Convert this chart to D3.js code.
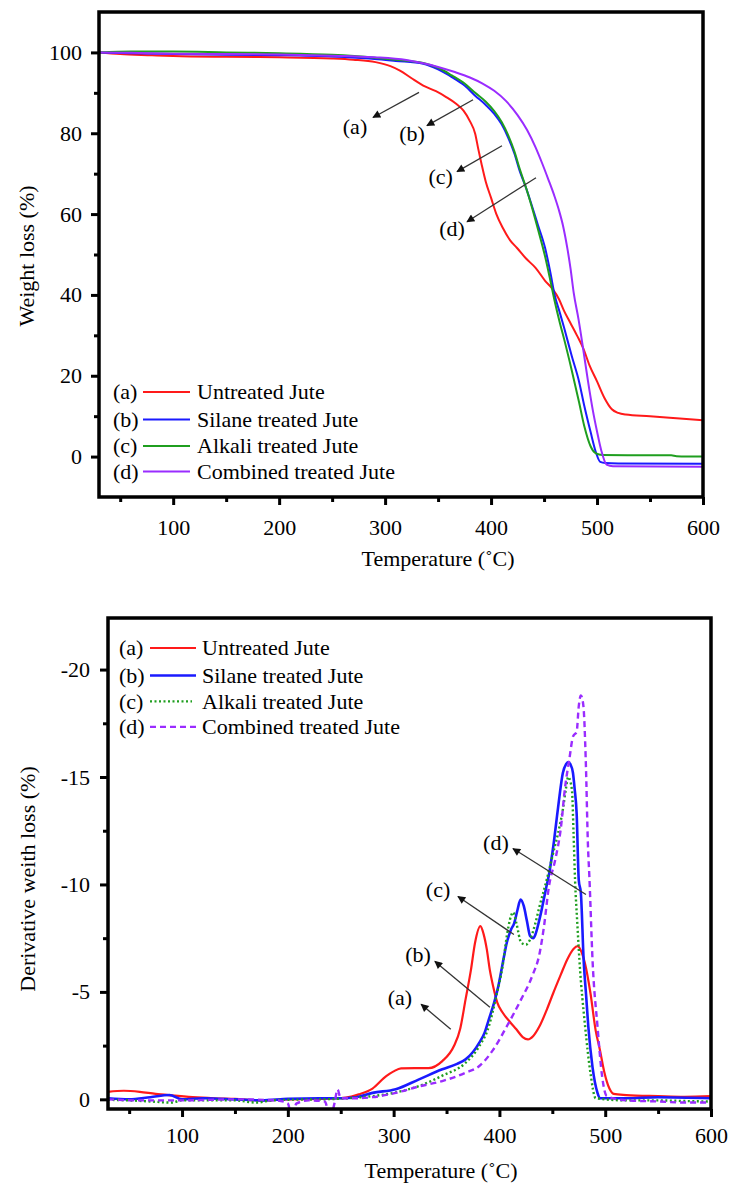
<!DOCTYPE html>
<html>
<head>
<meta charset="utf-8">
<script src="https://cdn.jsdelivr.net/npm/d3@7"></script>
<style>
  html, body { margin: 0; padding: 0; background: #fff; }
  svg { display: block; }
  text { font-family: "Liberation Serif", "Times New Roman", serif; fill: #000; }
</style>
</head>
<body>
<svg id="chart" width="729" height="1185"></svg>
<script>
// ---------- TGA (weight loss, %) ----------
const tgaUntreated = [[30,100],[50,99.6],[80,99.3],[100,99.1],[150,98.9],[200,98.8],[250,98.5],[270,98.2],[291,97.6],[305,96.6],[314,95.5],[325,93.6],[336,91.8],[348,90.4],[358,88.9],[367,87.3],[374,85.6],[380,83],[385,79.9],[388,76],[391,72.4],[395,68],[400,64],[405,60],[411,56.6],[418,53.5],[424.5,51.6],[433,49],[442,46.7],[451,43.5],[458,41.5],[464,39],[469,36],[475,33],[481,30],[487,26.8],[493,22.5],[500,18.6],[507,14.5],[514,11.7],[520,10.8],[527,10.4],[550,10],[575,9.5],[600,9]];
const tgaSilane = [[30,100],[60,99.8],[100,99.6],[150,99.4],[200,99.3],[250,99],[290,98.4],[310,97.9],[336,97.2],[350,95.8],[363,93.9],[375,91.8],[385,89.3],[395,87],[403,84.8],[410,82.2],[416,79],[422,75],[427,70.7],[433,66.5],[438,62.5],[444,57.5],[451,51.6],[456,45.5],[460,40],[465,35.5],[469,31.8],[476,25],[483,18.6],[488,12.5],[494,6],[499,1],[503,-1.3],[508,-1.6],[520,-1.7],[600,-1.8]];
const tgaAlkali = [[30,100],[60,100.2],[100,100.2],[150,100],[200,99.8],[250,99.4],[290,98.7],[310,98.2],[336,97.4],[350,96.2],[363,94.3],[375,92.3],[385,90],[395,87.8],[403,85.5],[410,82.8],[416,79.6],[422,75.5],[427,71.2],[433,66.5],[438,62.2],[444,56.5],[451,49.5],[456,43.5],[460,38.5],[465,33],[469,29],[476,21.5],[483,13.5],[488,7.5],[494,2.5],[499,0.8],[505,0.4],[570,0.3],[575,0.1],[600,0]];
const tgaCombined = [[30,100],[60,99.9],[100,99.7],[150,99.6],[200,99.5],[250,99.2],[290,98.8],[320,98.1],[336,97.3],[350,96.4],[365,95.2],[380,93.8],[392,92.3],[403,90.5],[414,88],[425,84.5],[434,80.8],[442,76.5],[448,72.7],[454,68.6],[460,64.3],[464,61],[468,57],[472,51.5],[475,46.5],[478,40.5],[482.5,34],[487,26.5],[491.5,18.6],[496,11.5],[500,6.2],[504,1.5],[509,-2],[515,-2.4],[600,-2.5]];

// ---------- DTG (derivative weight loss, %) ----------
const dtgUntreated = [[30,-0.35],[45,-0.4],[60,-0.35],[75,-0.25],[90,-0.18],[110,-0.1],[130,-0.05],[150,-0.02],[175,0.05],[200,0],[230,-0.02],[255,-0.08],[267,-0.23],[280,-0.5],[293,-1.08],[300,-1.3],[307,-1.44],[320,-1.45],[333,-1.45],[346,-1.78],[357,-2.48],[363,-3.3],[368,-4.65],[373,-6.0],[377,-7.3],[382,-8.06],[385,-7.7],[388,-7.0],[391,-6.0],[394,-5.27],[398,-4.5],[403,-4.04],[410,-3.6],[416,-3.26],[422,-2.9],[427,-2.79],[432,-2.95],[438,-3.41],[445,-4.2],[451,-4.96],[458,-5.8],[464,-6.5],[470,-7.0],[474,-7.13],[478,-6.8],[481,-6.3],[486,-4.96],[491,-3.2],[495,-2.3],[499,-1.3],[504,-0.5],[508,-0.25],[520,-0.2],[550,-0.15],[575,-0.12],[600,-0.15]];
const dtgSilane = [[30,-0.05],[50,0.0],[70,-0.1],[88,-0.2],[100,0.0],[120,-0.05],[150,0.0],[175,0.05],[200,-0.02],[230,-0.05],[250,-0.05],[265,-0.1],[280,-0.3],[302,-0.47],[324,-0.93],[346,-1.4],[360,-1.65],[368,-1.86],[375,-2.2],[381,-2.64],[386,-3.1],[390,-3.72],[395,-4.5],[399,-5.27],[403,-6.3],[407,-7.3],[411,-7.9],[414,-8.2],[417,-8.8],[420,-9.3],[423,-9.0],[426,-8.3],[429,-7.6],[432,-7.5],[434,-7.67],[437,-8.2],[440,-8.84],[444,-9.8],[447,-10.5],[451,-11.8],[455.5,-13.6],[460,-15.2],[463,-15.6],[465,-15.7],[467,-15.6],[469.5,-15.2],[471,-14.5],[473,-13.3],[475,-10.2],[477,-9.6],[479.6,-6.5],[482,-4.8],[484,-3.4],[488,-1.5],[492.7,-0.3],[495,-0.05],[520,-0.05],[550,-0.1],[600,-0.05]];
const dtgAlkali = [[30,0.02],[50,0.05],[70,0.1],[90,0.15],[100,0.05],[130,0.05],[150,0.05],[170,0.15],[185,0.05],[200,0.02],[230,0.0],[250,-0.03],[270,-0.1],[300,-0.3],[324,-0.62],[346,-1.1],[368,-1.7],[380,-2.4],[390,-3.4],[397,-4.8],[403,-6.2],[407,-7.6],[410,-8.37],[413,-8.7],[416,-8.2],[420.5,-7.3],[425,-7.2],[429,-7.44],[434,-8.2],[438,-9.0],[444.6,-10.2],[451,-11.5],[455.5,-12.4],[460,-13.5],[463,-14.5],[465,-15.0],[467,-14.8],[468.7,-14.3],[470,-12.5],[471.5,-10.2],[473.5,-8.3],[475.6,-6.5],[481,-3.4],[486,-1.24],[491,-0.05],[520,0.05],[550,0.05],[575,0.08],[600,0.1]];
const dtgCombined = [[30,0.0],[60,0.05],[100,0.05],[150,0.0],[190,0.05],[200,0.2],[204,0.9],[208,0.2],[220,0.05],[235,0.1],[240,0.9],[244,0.2],[247,-0.45],[250,-0.05],[265,-0.05],[280,-0.1],[302,-0.3],[324,-0.6],[346,-0.85],[368,-1.24],[381,-1.55],[394,-2.3],[407,-3.4],[420.5,-4.65],[431,-5.74],[438,-6.8],[442,-8.0],[446.8,-9.9],[453,-11.2],[458,-12.6],[462,-14.5],[466,-15.8],[469.7,-16.9],[473,-17.1],[475,-18.3],[477,-18.8],[479.4,-18.3],[481.6,-15.8],[483.7,-11.8],[485,-10.4],[488,-6.5],[492.7,-3.4],[497,-1.1],[501.5,-0.15],[520,0.05],[550,0.1],[575,0.15],[600,0.15]];

// ---------- labels & ticks ----------
const seriesTags = ["(a)", "(b)", "(c)", "(d)"];
const seriesNames = ["Untreated Jute", "Silane treated Jute", "Alkali treated Jute", "Combined treated Jute"];
const tempTicks = [100, 200, 300, 400, 500, 600];
const tempMinorTicks = [50, 150, 250, 350, 450, 550];
const tgaTicks = [0, 20, 40, 60, 80, 100];
const tgaMinorTicks = [10, 30, 50, 70, 90];
const dtgTicks = [0, -5, -10, -15, -20];
const dtgMinorTicks = [-2.5, -7.5, -12.5, -17.5];

// callouts in data units: arrow tail, arrow head, tag position
const tgaCallouts = [
  { tag: "(a)", tail: [332, 90.1], head: [288.6, 83.9], at: [271.6, 81.8] },
  { tag: "(b)", tail: [383, 88.3], head: [339.5, 81.9], at: [325.4, 80.0] },
  { tag: "(c)", tail: [410.3, 76.9], head: [367.9, 70.5], at: [352.5, 69.3] },
  { tag: "(d)", tail: [442.4, 69.0], head: [377.3, 58.1], at: [363.1, 56.5] }
];
const dtgCallouts = [
  { tag: "(a)", tail: [354, -3.26], head: [326, -4.42], at: [306, -4.75] },
  { tag: "(b)", tail: [391, -4.28], head: [339, -6.42], at: [323, -6.75] },
  { tag: "(c)", tail: [413.7, -7.67], head: [360.8, -9.44], at: [342, -9.77] },
  { tag: "(d)", tail: [481.8, -9.53], head: [412.8, -11.67], at: [396.7, -11.95] }
];

const colors = ["#ff1a1a", "#1a1aff", "#1f9e1f", "#9a2cff"];

const svg = d3.select("#chart");
const FONT = 22;

const defs = svg.append("defs");
defs.append("marker")
  .attr("id", "arrowhead")
  .attr("viewBox", "0 0 10 10")
  .attr("refX", 9).attr("refY", 5)
  .attr("markerUnits", "userSpaceOnUse")
  .attr("markerWidth", 11).attr("markerHeight", 8)
  .attr("orient", "auto")
  .append("path").attr("d", "M0,0 L10,5 L0,10 Z").attr("fill", "#111");

function panel(opts) {
  const { id, x, y, xTickPad, yTickPad } = opts;
  const [xl, xr] = x.range();
  const [yb, yt] = y.range();
  const g = svg.append("g");

  defs.append("clipPath").attr("id", id + "-clip")
    .append("rect").attr("x", xl).attr("y", yt).attr("width", xr - xl).attr("height", yb - yt);

  // curves
  const line = d3.line().x(d => x(d[0])).y(d => y(d[1])).curve(d3.curveMonotoneX);
  const plot = g.append("g").attr("clip-path", `url(#${id}-clip)`);
  opts.series.forEach((s, i) => {
    plot.append("path").datum(s.data)
      .attr("fill", "none")
      .attr("stroke", colors[i])
      .attr("stroke-width", s.width)
      .attr("stroke-dasharray", s.dash || null)
      .attr("stroke-linejoin", "round")
      .attr("d", line);
  });

  // axes
  const styleAxis = sel => {
    sel.select(".domain").remove();
    sel.selectAll(".tick line").attr("stroke", "#000").attr("stroke-width", 3);
    sel.selectAll(".tick text").style("font-size", FONT + "px")
      .style("font-family", '"Liberation Serif", serif').attr("fill", "#000");
  };
  g.append("g").attr("transform", `translate(0,${yb})`)
    .call(d3.axisBottom(x).tickValues(tempTicks).tickSize(8).tickPadding(xTickPad).tickFormat(d => String(d)))
    .call(styleAxis);
  g.append("g").attr("transform", `translate(0,${yb})`)
    .call(d3.axisBottom(x).tickValues(tempMinorTicks).tickSize(5).tickFormat(""))
    .call(styleAxis);
  g.append("g").attr("transform", `translate(${xl},0)`)
    .call(d3.axisLeft(y).tickValues(opts.yTicks).tickSize(8).tickPadding(yTickPad).tickFormat(d => String(d)))
    .call(styleAxis);
  g.append("g").attr("transform", `translate(${xl},0)`)
    .call(d3.axisLeft(y).tickValues(opts.yMinor).tickSize(5).tickFormat(""))
    .call(styleAxis);

  // frame
  g.append("rect").attr("x", xl).attr("y", yt).attr("width", xr - xl).attr("height", yb - yt)
    .attr("fill", "none").attr("stroke", "#000").attr("stroke-width", 3.5);

  // axis titles
  g.append("text").attr("x", opts.xTitle[0]).attr("y", opts.xTitle[1])
    .attr("text-anchor", "middle").style("font-size", FONT + "px").text("Temperature (˚C)");
  g.append("text").attr("transform", `translate(${opts.yTitle[0]},${opts.yTitle[1]}) rotate(-90)`)
    .attr("text-anchor", "middle").style("font-size", FONT + "px").text(opts.yTitleText);

  // callouts
  opts.callouts.forEach(c => {
    g.append("line")
      .attr("x1", x(c.tail[0])).attr("y1", y(c.tail[1]))
      .attr("x2", x(c.head[0])).attr("y2", y(c.head[1]))
      .attr("stroke", "#333").attr("stroke-width", 1.3)
      .attr("marker-end", "url(#arrowhead)");
    g.append("text").attr("x", x(c.at[0])).attr("y", y(c.at[1]))
      .attr("dy", "0.35em").attr("text-anchor", "middle")
      .style("font-size", FONT + "px").text(c.tag);
  });

  // legend
  const L = opts.legend;
  opts.series.forEach((s, i) => {
    const cy = L.y0 + i * L.dy[i];
    g.append("text").attr("x", L.tagX).attr("y", cy).attr("dy", "0.33em")
      .style("font-size", FONT + "px").text(seriesTags[i]);
    g.append("line").attr("x1", L.lineX[0]).attr("x2", L.lineX[1] - (s.legendTrim || 0))
      .attr("y1", cy).attr("y2", cy)
      .attr("stroke", colors[i]).attr("stroke-width", s.width)
      .attr("stroke-dasharray", s.dash || null);
    g.append("text").attr("x", L.textX).attr("y", cy).attr("dy", "0.33em")
      .style("font-size", FONT + "px").text(seriesNames[i]);
  });
}

// upper panel: TGA
panel({
  id: "tga",
  x: d3.scaleLinear().domain([30, 600]).range([99, 703]),
  y: d3.scaleLinear().domain([-10, 110]).range([497, 12]),
  xTickPad: 14, yTickPad: 9,
  yTicks: tgaTicks, yMinor: tgaMinorTicks,
  xTitle: [438, 566], yTitle: [34, 256], yTitleText: "Weight loss (%)",
  callouts: tgaCallouts,
  legend: { y0: 392, dy: [0, 27.5, 27, 26.5], tagX: 113, lineX: [143, 190], textX: 197 },
  series: [
    { data: tgaUntreated, width: 2 },
    { data: tgaSilane, width: 2 },
    { data: tgaAlkali, width: 2 },
    { data: tgaCombined, width: 2 }
  ]
});

// lower panel: DTG
panel({
  id: "dtg",
  x: d3.scaleLinear().domain([30, 600]).range([108, 711]),
  y: d3.scaleLinear().domain([0.45, -22.4]).range([1109, 618]),
  xTickPad: 10, yTickPad: 10,
  yTicks: dtgTicks, yMinor: dtgMinorTicks,
  xTitle: [441, 1178], yTitle: [35, 879], yTitleText: "Derivative weith loss (%)",
  callouts: dtgCallouts,
  legend: { y0: 648, dy: [0, 27.5, 26.7, 26.3], tagX: 119, lineX: [150, 196], textX: 202 },
  series: [
    { data: dtgUntreated, width: 2.2 },
    { data: dtgSilane, width: 2.6 },
    { data: dtgAlkali, width: 2.4, dash: "2,2.5", legendTrim: 4 },
    { data: dtgCombined, width: 2.4, dash: "6,4" }
  ]
});
</script>
</body>
</html>
